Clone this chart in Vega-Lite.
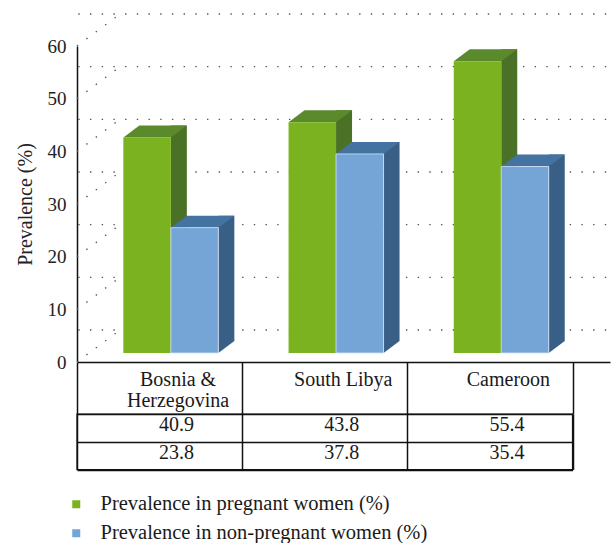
{
  "$schema": "https://vega.github.io/schema/vega-lite/v6.json",
  "padding": {"left": 15, "top": 11, "right": 0, "bottom": 0},
  "datasets": {
    "prev": [
      {"country": "Bosnia & Herzegovina", "group": "Prevalence in pregnant women (%)", "value": 40.9},
      {"country": "South Libya", "group": "Prevalence in pregnant women (%)", "value": 43.8},
      {"country": "Cameroon", "group": "Prevalence in pregnant women (%)", "value": 55.4},
      {"country": "Bosnia & Herzegovina", "group": "Prevalence in non-pregnant women (%)", "value": 23.8},
      {"country": "South Libya", "group": "Prevalence in non-pregnant women (%)", "value": 37.8},
      {"country": "Cameroon", "group": "Prevalence in non-pregnant women (%)", "value": 35.4}
    ],
    "levels": [
      {"level": 0}, {"level": 10}, {"level": 20}, {"level": 30}, {"level": 40}, {"level": 50}, {"level": 60}
    ]
  },
  "config": {
    "view": {"stroke": null},
    "font": "Liberation Serif",
    "axis": {"labelFont": "Liberation Serif", "titleFont": "Liberation Serif"}
  },
  "bounds": "flush",
  "spacing": 52,
  "resolve": {"scale": {"color": "independent"}, "legend": {"color": "independent"}},
  "vconcat": [
    {
      "width": 533,
      "height": 316,
      "data": {"name": "prev"},
      "layer": [
        {
          "data": {"name": "levels"},
          "mark": {"type": "rule", "color": "#555555", "strokeWidth": 1.4, "strokeDash": [1.4, 10.3], "xOffset": 43, "yOffset": -32},
          "encoding": {
            "y": {"field": "level", "type": "quantitative",
              "scale": {"domain": [0, 60], "nice": false, "zero": true},
              "axis": {"title": "Prevalence (%)", "values": [0, 10, 20, 30, 40, 50, 60], "grid": false, "ticks": false,
                "domainColor": "#111111", "domainWidth": 1.5, "labelFontSize": 19, "labelColor": "#222222", "labelPadding": 11,
                "titleFontSize": 20, "titleFontWeight": "normal", "titleColor": "#222222", "titlePadding": 12}}
          }
        },
        {
          "data": {"name": "levels"},
          "mark": {"type": "point", "shape": "M0,0L43,-32", "size": 4, "filled": false, "color": "#555555", "strokeWidth": 1.4, "strokeDash": [1.4, 10.3], "opacity": 1},
          "encoding": {
            "x": {"datum": "Bosnia & Herzegovina", "type": "nominal", "bandPosition": 0},
            "y": {"field": "level", "type": "quantitative"}
          }
        },
        {
          "transform": [{"filter": "datum.group === 'Prevalence in pregnant women (%)'"}],
          "mark": {"type": "bar", "color": "#4B7126", "width": 16, "xOffset": 19.25, "yOffset": -21, "y2Offset": -21},
          "encoding": {
            "x": {"field": "country", "type": "nominal", "sort": ["Bosnia & Herzegovina", "South Libya", "Cameroon"],
              "scale": {"type": "band", "paddingInner": 0, "paddingOuter": 0.1132, "align": 0},
              "axis": {"title": null, "labels": false, "ticks": false, "grid": false, "domainColor": "#111111", "domainWidth": 1.5}},
            "y": {"field": "value", "type": "quantitative"}
          }
        },
        {
          "transform": [{"filter": "datum.group === 'Prevalence in pregnant women (%)'"}],
          "mark": {"type": "point", "shape": "M0,0L0,-12L16,-12Z", "size": 4, "filled": true, "color": "#4B7126", "opacity": 1, "xOffset": 11.25, "yOffset": -9},
          "encoding": {
            "x": {"field": "country", "type": "nominal", "sort": ["Bosnia & Herzegovina", "South Libya", "Cameroon"]},
            "y": {"datum": 0, "type": "quantitative"}
          }
        },
        {
          "transform": [{"filter": "datum.group === 'Prevalence in pregnant women (%)'"}],
          "mark": {"type": "point", "shape": "M0,0L47.5,0L63.5,-12L16,-12Z", "size": 4, "filled": true, "color": "#5B8A2D", "opacity": 1, "xOffset": -36.25, "yOffset": -9},
          "encoding": {
            "x": {"field": "country", "type": "nominal", "sort": ["Bosnia & Herzegovina", "South Libya", "Cameroon"]},
            "y": {"field": "value", "type": "quantitative"}
          }
        },
        {
          "transform": [{"filter": "datum.group === 'Prevalence in non-pregnant women (%)'"}],
          "mark": {"type": "bar", "color": "#3A5F86", "width": 16, "xOffset": 66.75, "yOffset": -21, "y2Offset": -21},
          "encoding": {
            "x": {"field": "country", "type": "nominal", "sort": ["Bosnia & Herzegovina", "South Libya", "Cameroon"]},
            "y": {"field": "value", "type": "quantitative"}
          }
        },
        {
          "transform": [{"filter": "datum.group === 'Prevalence in non-pregnant women (%)'"}],
          "mark": {"type": "point", "shape": "M0,0L0,-12L16,-12Z", "size": 4, "filled": true, "color": "#3A5F86", "opacity": 1, "xOffset": 58.75, "yOffset": -9},
          "encoding": {
            "x": {"field": "country", "type": "nominal", "sort": ["Bosnia & Herzegovina", "South Libya", "Cameroon"]},
            "y": {"datum": 0, "type": "quantitative"}
          }
        },
        {
          "transform": [{"filter": "datum.group === 'Prevalence in non-pregnant women (%)'"}],
          "mark": {"type": "point", "shape": "M0,0L47.5,0L63.5,-12L16,-12Z", "size": 4, "filled": true, "color": "#4573A1", "opacity": 1, "xOffset": 11.25, "yOffset": -9},
          "encoding": {
            "x": {"field": "country", "type": "nominal", "sort": ["Bosnia & Herzegovina", "South Libya", "Cameroon"]},
            "y": {"field": "value", "type": "quantitative"}
          }
        },
        {
          "transform": [{"filter": "datum.group === 'Prevalence in pregnant women (%)'"}],
          "mark": {"type": "bar", "width": 47.5, "xOffset": -12.5, "yOffset": -9, "y2Offset": -9},
          "encoding": {
            "x": {"field": "country", "type": "nominal", "sort": ["Bosnia & Herzegovina", "South Libya", "Cameroon"]},
            "y": {"field": "value", "type": "quantitative"},
            "color": {"field": "group", "type": "nominal",
              "scale": {"domain": ["Prevalence in pregnant women (%)", "Prevalence in non-pregnant women (%)"], "range": ["#7AB31F", "#75A5D6"]},
              "legend": {"orient": "none", "legendX": -11, "legendY": 448, "title": null, "symbolType": "square", "symbolSize": 64,
                "symbolStrokeWidth": 0, "labelFont": "Liberation Serif", "labelFontSize": 20.5, "labelColor": "#1a1a1a",
                "labelOffset": 14, "rowPadding": 8, "labelLimit": 500}}
          }
        },
        {
          "transform": [{"filter": "datum.group === 'Prevalence in non-pregnant women (%)'"}],
          "mark": {"type": "bar", "width": 47.5, "xOffset": 35, "yOffset": -9, "y2Offset": -9, "stroke": "#d6e3f1", "strokeWidth": 0.8},
          "encoding": {
            "x": {"field": "country", "type": "nominal", "sort": ["Bosnia & Herzegovina", "South Libya", "Cameroon"]},
            "y": {"field": "value", "type": "quantitative"},
            "color": {"field": "group", "type": "nominal"}
          }
        }
      ]
    },
    {
      "width": 495.5,
      "height": 55.5,
      "view": {"stroke": "#111111", "strokeWidth": 1.4},
      "data": {"name": "prev"},
      "mark": {"type": "text", "font": "Liberation Serif", "fontSize": 20, "dx": 17, "dy": -3, "color": "#1a1a1a"},
      "encoding": {
        "x": {"field": "country", "type": "nominal", "sort": ["Bosnia & Herzegovina", "South Libya", "Cameroon"],
          "scale": {"type": "band", "paddingInner": 0, "paddingOuter": 0},
          "axis": {"orient": "top", "title": null, "domain": false, "tickBand": "extent", "ticks": true, "tickSize": 51.5,
            "tickColor": "#111111", "tickWidth": 1.5, "grid": true, "gridColor": "#111111", "gridWidth": 1.5, "gridOpacity": 1,
            "labelExpr": "datum.value === 'Bosnia & Herzegovina' ? ['Bosnia &', 'Herzegovina'] : datum.value",
            "labelFontSize": 20, "labelColor": "#1a1a1a", "labelPadding": -22.5, "labelBaseline": "alphabetic",
            "labelOffset": 18, "labelLineHeight": 21, "labelAngle": 0, "labelOverlap": false, "labelLimit": 300}},
        "y": {"field": "group", "type": "nominal", "sort": ["Prevalence in pregnant women (%)", "Prevalence in non-pregnant women (%)"],
          "scale": {"type": "band", "paddingInner": 0, "paddingOuter": 0},
          "axis": {"title": null, "labels": false, "ticks": false, "domain": false, "grid": true, "tickBand": "extent",
            "gridColor": "#111111", "gridWidth": 1.3, "gridOpacity": 1}},
        "text": {"field": "value", "type": "quantitative", "format": ".1f"}
      }
    }
  ]
}
